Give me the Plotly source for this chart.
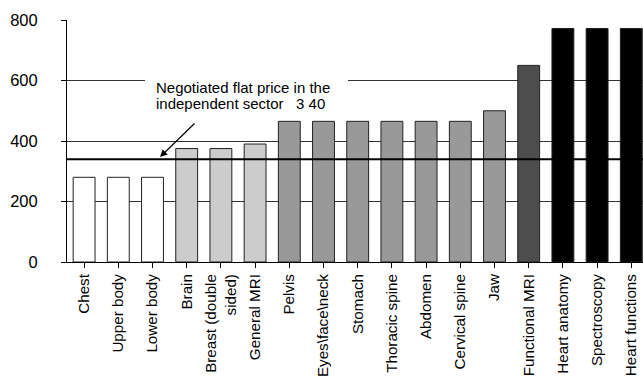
import plotly.graph_objects as go

categories = ["Chest", "Upper body", "Lower body", "Brain", "Breast (double<br>sided)",
              "General MRI", "Pelvis", "Eyes\\face\\neck", "Stomach", "Thoracic spine",
              "Abdomen", "Cervical spine", "Jaw", "Functional MRI", "Heart anatomy",
              "Spectroscopy", "Heart functions"]
prices = [280, 280, 280, 375, 375, 390, 465, 465, 465, 465, 465, 465, 500, 650, 772, 772, 772]
bar_colors = ["#ffffff"] * 3 + ["#cccccc"] * 3 + ["#999999"] * 7 + ["#4d4d4d"] + ["#000000"] * 3
flat_price = 340
annot_line1 = "Negotiated flat price in the"
annot_line2 = "independent sector   3 40"
y_ticks = [0, 200, 400, 600, 800]

FONT = "Liberation Sans, Arial, sans-serif"

W, H = 643, 379
L, T, B = 67, 20, 117
plot_w = W - L
cat_px = 34.2
x_hi = -0.5 + plot_w / cat_px

def px_to_x(px):
    return (px - L) / cat_px - 0.5

plot_h = H - T - B
def py_to_y(py):
    return (H - B - py) / plot_h * 800

x_idx = list(range(len(categories)))

fig = go.Figure(go.Bar(
    x=x_idx, y=prices,
    marker=dict(color=bar_colors, line=dict(color="#222222", width=1)),
    width=0.64,
    hoverinfo="skip",
))

fig.update_layout(
    width=W, height=H,
    margin=dict(l=L, r=0, t=T, b=B),
    paper_bgcolor="white", plot_bgcolor="white",
    showlegend=False,
    font=dict(family=FONT, color="black"),
    xaxis=dict(
        tickmode="array", tickvals=x_idx, ticktext=categories,
        range=[-0.5, x_hi],
        tickangle=-90,
        tickfont=dict(size=15.2, family=FONT, color="black"),
        ticks="outside", ticklen=5, tickcolor="black", tickson="boundaries",
        showline=True, linecolor="black", linewidth=1,
        showgrid=False, zeroline=False,
    ),
    yaxis=dict(
        range=[0, 800], tickvals=y_ticks,
        tickfont=dict(size=16.5, family=FONT, color="black"),
        ticks="outside", ticklen=5, tickcolor="black",
        ticklabelstandoff=20,
        showline=True, linecolor="black", linewidth=1,
        showgrid=True, gridcolor="#333333", gridwidth=1,
        zeroline=False,
    ),
)

# flat price line
fig.add_shape(type="line", xref="paper", yref="y", x0=0, x1=1, y0=flat_price, y1=flat_price,
              line=dict(color="black", width=2), layer="above")

# white box behind the annotation text (covers gridline)
fig.add_shape(type="rect", xref="x", yref="y",
              x0=px_to_x(145), x1=px_to_x(348), y0=py_to_y(114), y1=py_to_y(74),
              fillcolor="white", line=dict(width=0), layer="above")

fig.add_annotation(x=px_to_x(154), y=py_to_y(87), xref="x", yref="y",
                   text=annot_line1, showarrow=False, xanchor="left", yanchor="middle",
                   font=dict(size=15, family=FONT, color="black"))
fig.add_annotation(x=px_to_x(154), y=py_to_y(103), xref="x", yref="y",
                   text=annot_line2, showarrow=False, xanchor="left", yanchor="middle",
                   font=dict(size=15, family=FONT, color="black"))

# arrow
fig.add_annotation(x=px_to_x(160), y=py_to_y(157), xref="x", yref="y",
                   ax=px_to_x(196), ay=py_to_y(122), axref="x", ayref="y",
                   text="", showarrow=True, arrowhead=2, arrowsize=1.2, arrowwidth=1.2,
                   arrowcolor="black")

fig.write_html("out.html")
